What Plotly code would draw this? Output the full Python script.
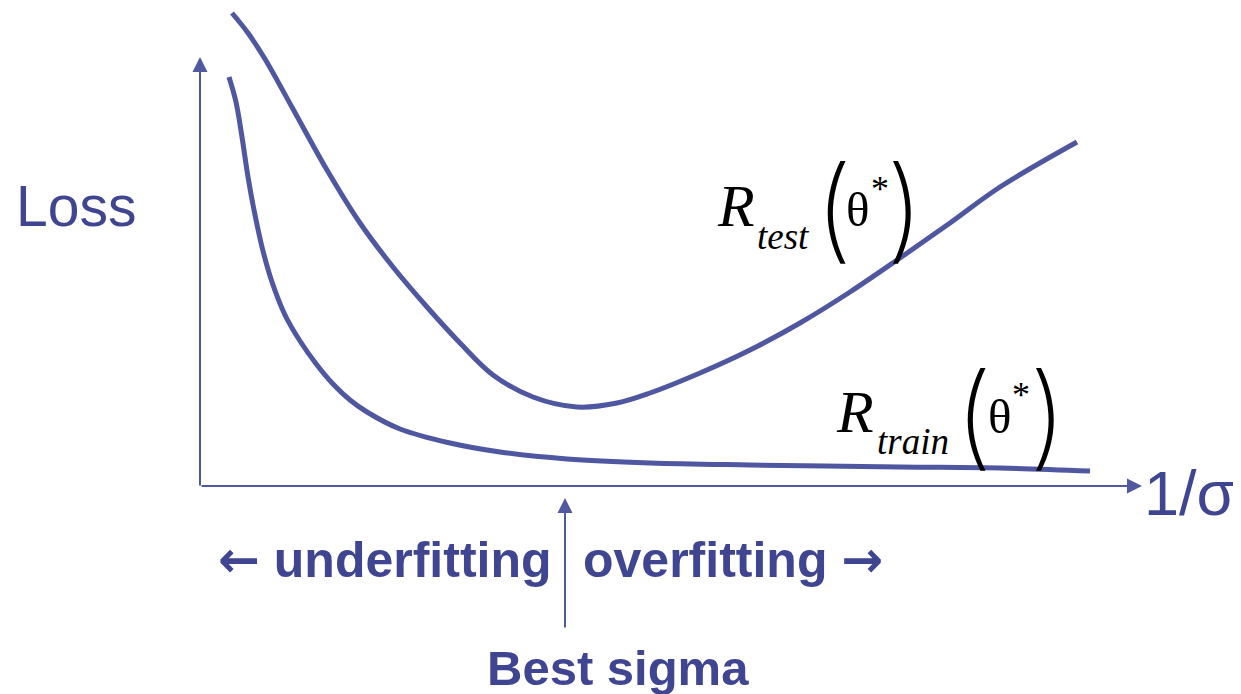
import plotly.graph_objects as go

# Data (x = 1/sigma offset from origin, y = loss offset from origin)
test_x = [32, 48, 65, 93, 127, 160, 193, 227, 260, 293, 333, 377, 417, 450, 500, 550, 600, 650, 700, 750, 800, 877]
test_y = [474, 454, 428, 378, 317, 264, 220, 180, 144, 112, 90, 80, 84, 94, 114, 137, 164, 195, 229, 264, 300, 345]

train_x = [29, 36, 42, 48, 55, 63, 72, 85, 100, 117, 133, 150, 167, 200, 250, 300, 367, 450, 550, 700, 800, 890]
train_y = [410, 385, 350, 310, 272, 236, 205, 172, 146, 122, 103, 87, 75, 58, 44, 35, 28, 24, 22, 20, 19, 16]

best_sigma_x = 365

CURVE = "#4f57a0"
TEXT = "#3f4590"
AXIS = "#5058a0"

# page has an 8px body margin: map page pixels to data units
OFF = 8


def X(px):
    return px - 200


def Y(py):
    return 487 - py


fig = go.Figure()
fig.add_trace(go.Scatter(x=test_x, y=test_y, mode="lines",
                         line=dict(color=CURVE, width=5, shape="spline", smoothing=1.0),
                         hoverinfo="skip", showlegend=False))
fig.add_trace(go.Scatter(x=train_x, y=train_y, mode="lines",
                         line=dict(color=CURVE, width=5, shape="spline", smoothing=1.0),
                         hoverinfo="skip", showlegend=False))

ann = []


def arrow(x, y, ax, ay, width=2):
    ann.append(dict(x=x, y=y, ax=ax, ay=ay, xref="x", yref="y", axref="x", ayref="y",
                    text="", showarrow=True, arrowhead=2, arrowsize=1.5, arrowwidth=width,
                    arrowcolor=AXIS, standoff=0, startstandoff=0))


# axes
arrow(0, Y(57), 0, 0)
arrow(X(1142), 1, 0, 1)
# best sigma arrow
arrow(best_sigma_x, Y(498), best_sigma_x, Y(629))


def text(t, px, py, size, family="Liberation Sans", color=TEXT, xanchor="left",
         weight="normal", style="normal"):
    ann.append(dict(x=X(px), y=Y(py), xref="x", yref="y", text=t, showarrow=False,
                    xanchor=xanchor, yanchor="middle", borderpad=0,
                    font=dict(family=family, size=size, color=color, weight=weight, style=style)))


ARW = "<span style='font-family:DejaVu Sans'>%s</span>"
text("Loss", 15, 206, 57)
text("1/σ", 1143, 493, 63)
text(ARW % "←" + " underfitting", 553, 560, 50, xanchor="right", weight="bold")
text("overfitting " + ARW % "→", 582, 560, 50, weight="bold")
text("Best sigma", 618, 668, 49, xanchor="center", weight="bold")

SERIF = "Liberation Serif"
PAREN = "Inter"
# R_test(theta*)
text("R", 716, 206, 60, family=SERIF, color="black", style="italic")
text("test", 756, 236, 37, family=SERIF, color="black", style="italic")
text("(", 834, 207, 113, family=PAREN, color="black", xanchor="center", weight=200)
text("θ", 845, 209, 49, family=SERIF, color="black")
text("*", 880, 189, 36, family=SERIF, color="black", xanchor="center")
text(")", 905, 207, 113, family=PAREN, color="black", xanchor="center", weight=200)
# R_train(theta*)
text("R", 835, 412, 60, family=SERIF, color="black", style="italic")
text("train", 876, 441, 37, family=SERIF, color="black", style="italic")
text("(", 974, 414, 113, family=PAREN, color="black", xanchor="center", weight=200)
text("θ", 987, 416, 49, family=SERIF, color="black")
text("*", 1021, 395, 36, family=SERIF, color="black", xanchor="center")
text(")", 1048, 414, 113, family=PAREN, color="black", xanchor="center", weight=200)

fig.update_layout(
    width=1241 - OFF, height=694 - OFF, margin=dict(l=0, r=0, t=0, b=0),
    paper_bgcolor="white", plot_bgcolor="white",
    xaxis=dict(range=[X(OFF), X(1241)], visible=False, fixedrange=True),
    yaxis=dict(range=[Y(694), Y(OFF)], visible=False, fixedrange=True),
    annotations=ann, showlegend=False,
)

fig.write_html("out.html")
